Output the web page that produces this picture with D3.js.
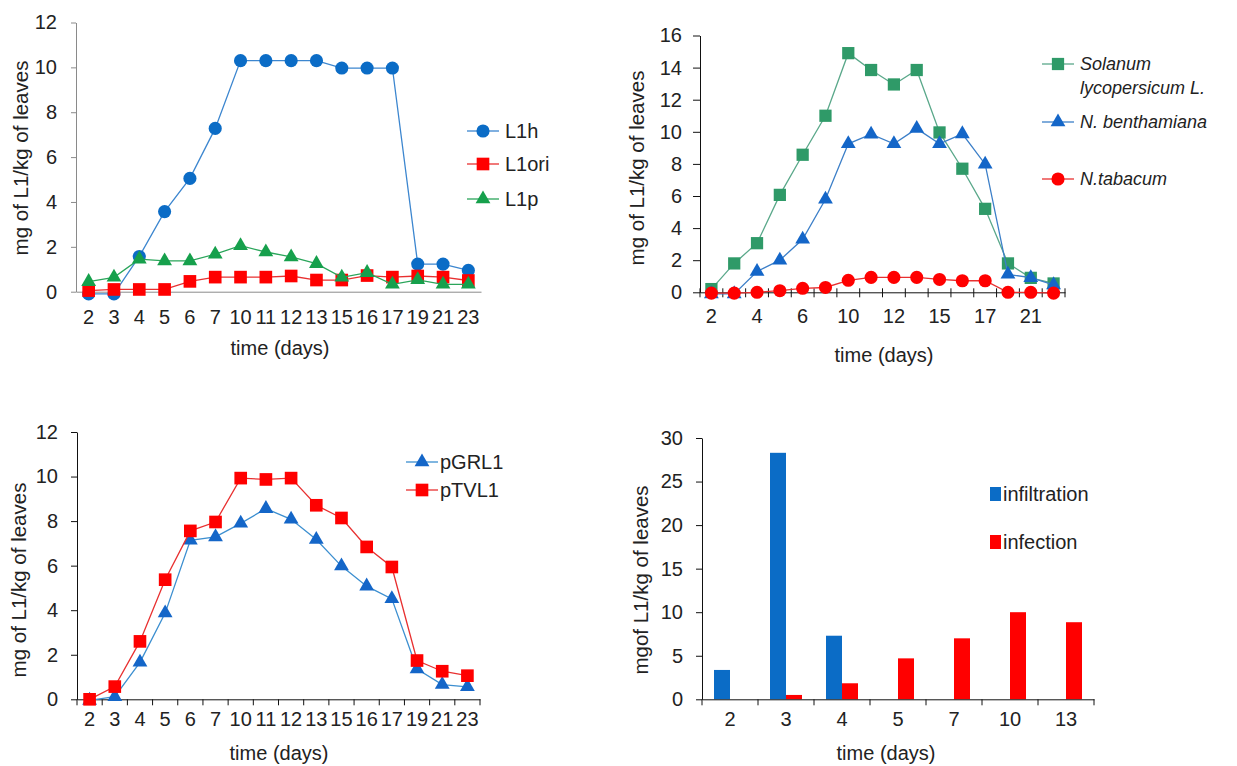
<!DOCTYPE html>
<html>
<head>
<meta charset="utf-8">
<script src="https://cdn.jsdelivr.net/npm/d3@7"></script>
<style>
body { margin: 0; background: #fff; }
svg text { font-family: "Liberation Sans", Arial, sans-serif; }
</style>
</head>
<body>
<svg id="chart" width="1237" height="766"></svg>
<script>
// categories (days after inoculation)
var days = ["2","3","4","5","6","7","10","11","12","13","15","16","17","19","21","23"];
var barDays = ["2","3","4","5","7","10","13"];

// panel A: L1 constructs
var l1h   = [-0.1,-0.1,1.57,3.57,5.05,7.28,10.3,10.3,10.3,10.3,9.97,9.97,9.97,1.23,1.23,0.95];
var l1ori = [0.05,0.1,0.1,0.1,0.46,0.65,0.65,0.65,0.7,0.52,0.52,0.72,0.65,0.7,0.65,0.5];
var l1p   = [0.45,0.64,1.45,1.37,1.37,1.67,2.05,1.77,1.55,1.25,0.64,0.85,0.33,0.53,0.33,0.33];

// panel B: host plants
var solanum     = [0.2,1.8,3.06,6.07,8.57,11.0,14.9,13.85,12.95,13.85,9.96,7.7,5.2,1.8,0.9,0.55];
var benthamiana = [-0.1,-0.1,1.3,2.0,3.3,5.8,9.25,9.85,9.25,10.2,9.25,9.87,7.98,1.12,0.91,0.46];
var tabacum     = [-0.05,-0.05,0,0.1,0.25,0.3,0.75,0.93,0.93,0.93,0.8,0.72,0.72,0,0,-0.05];

// panel C: vectors
var pGRL1 = [-0.05,0.12,1.66,3.87,7.14,7.29,7.9,8.56,8.08,7.17,5.98,5.08,4.51,1.36,0.66,0.56];
var pTVL1 = [0,0.57,2.6,5.37,7.56,7.96,9.93,9.87,9.93,8.71,8.14,6.84,5.94,1.74,1.26,1.06];

// panel D: delivery method
var infiltration = [3.37,28.3,7.3,0,0,0,0];
var infection    = [0,0.5,1.84,4.7,7.0,10.0,8.85];

var BLUE = "#0b6cc6", RED = "#ff0000", GREEN = "#16a04c", SEA = "#2f9a68";
var FONT = 20;

var svg = d3.select("#chart");

function sym(shape, size) {
    var t = {circle: d3.symbolCircle, square: d3.symbolSquare, triangle: d3.symbolTriangle}[shape];
    return d3.symbol().type(t).size(size)();
}

// y axis + x axis common to all panels
function axes(o, x, y) {
    var gy = svg.append("g")
        .attr("transform", "translate(" + o.x0 + ",0)")
        .call(d3.axisLeft(y).tickValues(d3.range(0, o.ymax + 0.001, o.ystep))
            .tickSize(o.yTick).tickSizeOuter(0).tickPadding(o.yPad));
    gy.attr("font-size", FONT).attr("font-family", null).attr("color", o.axisColor);
    gy.selectAll("text").attr("fill", "#222");

    var gx = svg.append("g")
        .attr("transform", "translate(0," + o.y0 + ")")
        .call(d3.axisBottom(x).tickSize(0).tickSizeOuter(0).tickPadding(o.xPad)
            .tickFormat(function(d, i) { return i % (o.every || 1) === 0 ? d : ""; }));
    gx.attr("font-size", FONT).attr("font-family", null).attr("color", o.axisColor);
    gx.selectAll("text").attr("fill", "#222");

    // tick marks between categories
    if (o.xTicks) {
        var bounds = x.domain().map(function(d) { return x(d); }).concat([x.range()[1]]);
        gx.selectAll(".bt").data(bounds).enter().append("line")
            .attr("x1", function(d) { return d; }).attr("x2", function(d) { return d; })
            .attr("y1", o.xTicks[0]).attr("y2", o.xTicks[1])
            .attr("stroke", o.axisColor);
    }

    svg.append("text")
        .attr("transform", "translate(" + o.ylabelX + "," + o.ylabelY + ") rotate(-90)")
        .attr("text-anchor", "middle").attr("dy", "0.35em")
        .attr("font-size", 20.5).attr("fill", "#222")
        .text(o.ylabel);

    svg.append("text")
        .attr("x", o.xtitleX).attr("y", o.xtitleY)
        .attr("text-anchor", "middle").attr("dy", "0.35em")
        .attr("font-size", FONT).attr("fill", "#222")
        .text("time (days)");
}

function linePanel(o) {
    var x = d3.scaleBand().domain(days).range([o.x0, o.x1]);
    var y = d3.scaleLinear().domain([0, o.ymax]).range([o.y0, o.y1]);
    var cx = function(d, i) { return x(days[i]) + x.bandwidth() / 2; };

    axes(o, x, y);

    var line = d3.line().x(cx).y(function(d) { return y(d); });

    o.series.forEach(function(s) {
        svg.append("path")
            .attr("d", line(s.values))
            .attr("fill", "none")
            .attr("stroke", s.lineColor || s.color)
            .attr("stroke-width", 1.3);
        svg.append("g").selectAll("path").data(s.values).enter().append("path")
            .attr("transform", function(d, i) { return "translate(" + cx(d, i) + "," + y(d) + ")"; })
            .attr("d", sym(s.shape, s.size))
            .attr("fill", s.color);
    });

    // legend
    o.series.forEach(function(s) {
        var lg = svg.append("g").attr("transform", "translate(" + o.legendX + "," + s.ly + ")");
        lg.append("line").attr("x1", -16).attr("x2", 16)
            .attr("stroke", s.lineColor || s.color).attr("stroke-width", 1.3);
        lg.append("path").attr("d", sym(s.shape, s.size)).attr("fill", s.color);
        var t = lg.append("text").attr("x", o.legendText).attr("dy", "0.35em")
            .attr("font-size", o.legendFont || FONT).attr("fill", "#222")
            .attr("font-style", o.italic ? "italic" : null);
        s.label.forEach(function(l, k) {
            t.append("tspan").attr("x", o.legendText).attr("dy", k === 0 ? "0.35em" : "1.3em").text(l);
        });
    });
}

// Panel A
linePanel({
    x0: 76, x1: 481, y0: 291.7, y1: 22.5, ymax: 12, ystep: 2,
    axisColor: "#8a8a8a", yTick: 5, yPad: 14, xPad: 18, xTicks: null,
    ylabel: "mg of L1/kg of leaves", ylabelX: 21, ylabelY: 158,
    xtitleX: 280, xtitleY: 348,
    legendX: 483, legendText: 22,
    series: [
        {values: l1h, color: BLUE, lineColor: "#3c86cf", shape: "circle", size: 135, label: ["L1h"], ly: 131},
        {values: l1ori, color: RED, lineColor: "#e83030", shape: "square", size: 160, label: ["L1ori"], ly: 164},
        {values: l1p, color: GREEN, lineColor: "#2aa55a", shape: "triangle", size: 95, label: ["L1p"], ly: 199}
    ]
});

// Panel B
linePanel({
    x0: 700, x1: 1065, y0: 292.3, y1: 35.5, ymax: 16, ystep: 2,
    axisColor: "#111", yTick: 7, yPad: 11, xPad: 17, xTicks: [-4, 5], every: 2,
    ylabel: "mg of L1/kg of leaves", ylabelX: 637, ylabelY: 168,
    xtitleX: 884, xtitleY: 355,
    legendX: 1058, legendText: 22, italic: true, legendFont: 18,
    series: [
        {values: solanum, color: SEA, lineColor: "#5aa88a", shape: "square", size: 150, label: ["Solanum", "lycopersicum L."], ly: 64},
        {values: benthamiana, color: "#1466c8", lineColor: "#3c7fc8", shape: "triangle", size: 95, label: ["N. benthamiana"], ly: 122},
        {values: tabacum, color: RED, lineColor: "#e83030", shape: "circle", size: 135, label: ["N.tabacum"], ly: 179}
    ]
});

// Panel C
linePanel({
    x0: 77, x1: 480, y0: 699.3, y1: 432, ymax: 12, ystep: 2,
    axisColor: "#111", yTick: 6, yPad: 13, xPad: 13, xTicks: [0, 6],
    ylabel: "mg of L1/kg of leaves", ylabelX: 19, ylabelY: 580,
    xtitleX: 279, xtitleY: 753,
    legendX: 422, legendText: 18,
    series: [
        {values: pGRL1, color: "#1466c8", lineColor: "#3c8fd0", shape: "triangle", size: 95, label: ["pGRL1"], ly: 462},
        {values: pTVL1, color: RED, lineColor: "#e83030", shape: "square", size: 160, label: ["pTVL1"], ly: 490}
    ]
});

// Panel D: grouped bars
(function() {
    var o = {
        x0: 702, x1: 1094, y0: 699.3, y1: 438, ymax: 30, ystep: 5,
        axisColor: "#111", yTick: 6, yPad: 13, xPad: 13, xTicks: [0, 6],
        ylabel: "mgof L1/kg of leaves", ylabelX: 641, ylabelY: 580,
        xtitleX: 886, xtitleY: 753
    };
    var x = d3.scaleBand().domain(barDays).range([o.x0, o.x1]);
    var y = d3.scaleLinear().domain([0, o.ymax]).range([o.y0, o.y1]);
    var inner = d3.scaleBand().domain(["infiltration", "infection"]).range([0, 32]);
    var colors = {infiltration: BLUE, infection: RED};
    var vals = {infiltration: infiltration, infection: infection};

    ["infiltration", "infection"].forEach(function(k) {
        svg.append("g").selectAll("rect").data(vals[k]).enter().append("rect")
            .attr("x", function(d, i) { return x(barDays[i]) + (x.bandwidth() - 32) / 2 + inner(k); })
            .attr("y", function(d) { return y(d); })
            .attr("width", inner.bandwidth())
            .attr("height", function(d) { return y(0) - y(d); })
            .attr("fill", colors[k]);
    });

    axes(o, x, y);

    [["infiltration", 494], ["infection", 542]].forEach(function(l) {
        svg.append("rect").attr("x", 990).attr("y", l[1] - 7).attr("width", 11).attr("height", 14)
            .attr("fill", colors[l[0]]);
        svg.append("text").attr("x", 1003).attr("y", l[1]).attr("dy", "0.35em")
            .attr("font-size", 20).attr("fill", "#222").text(l[0]);
    });
})();
</script>
</body>
</html>
